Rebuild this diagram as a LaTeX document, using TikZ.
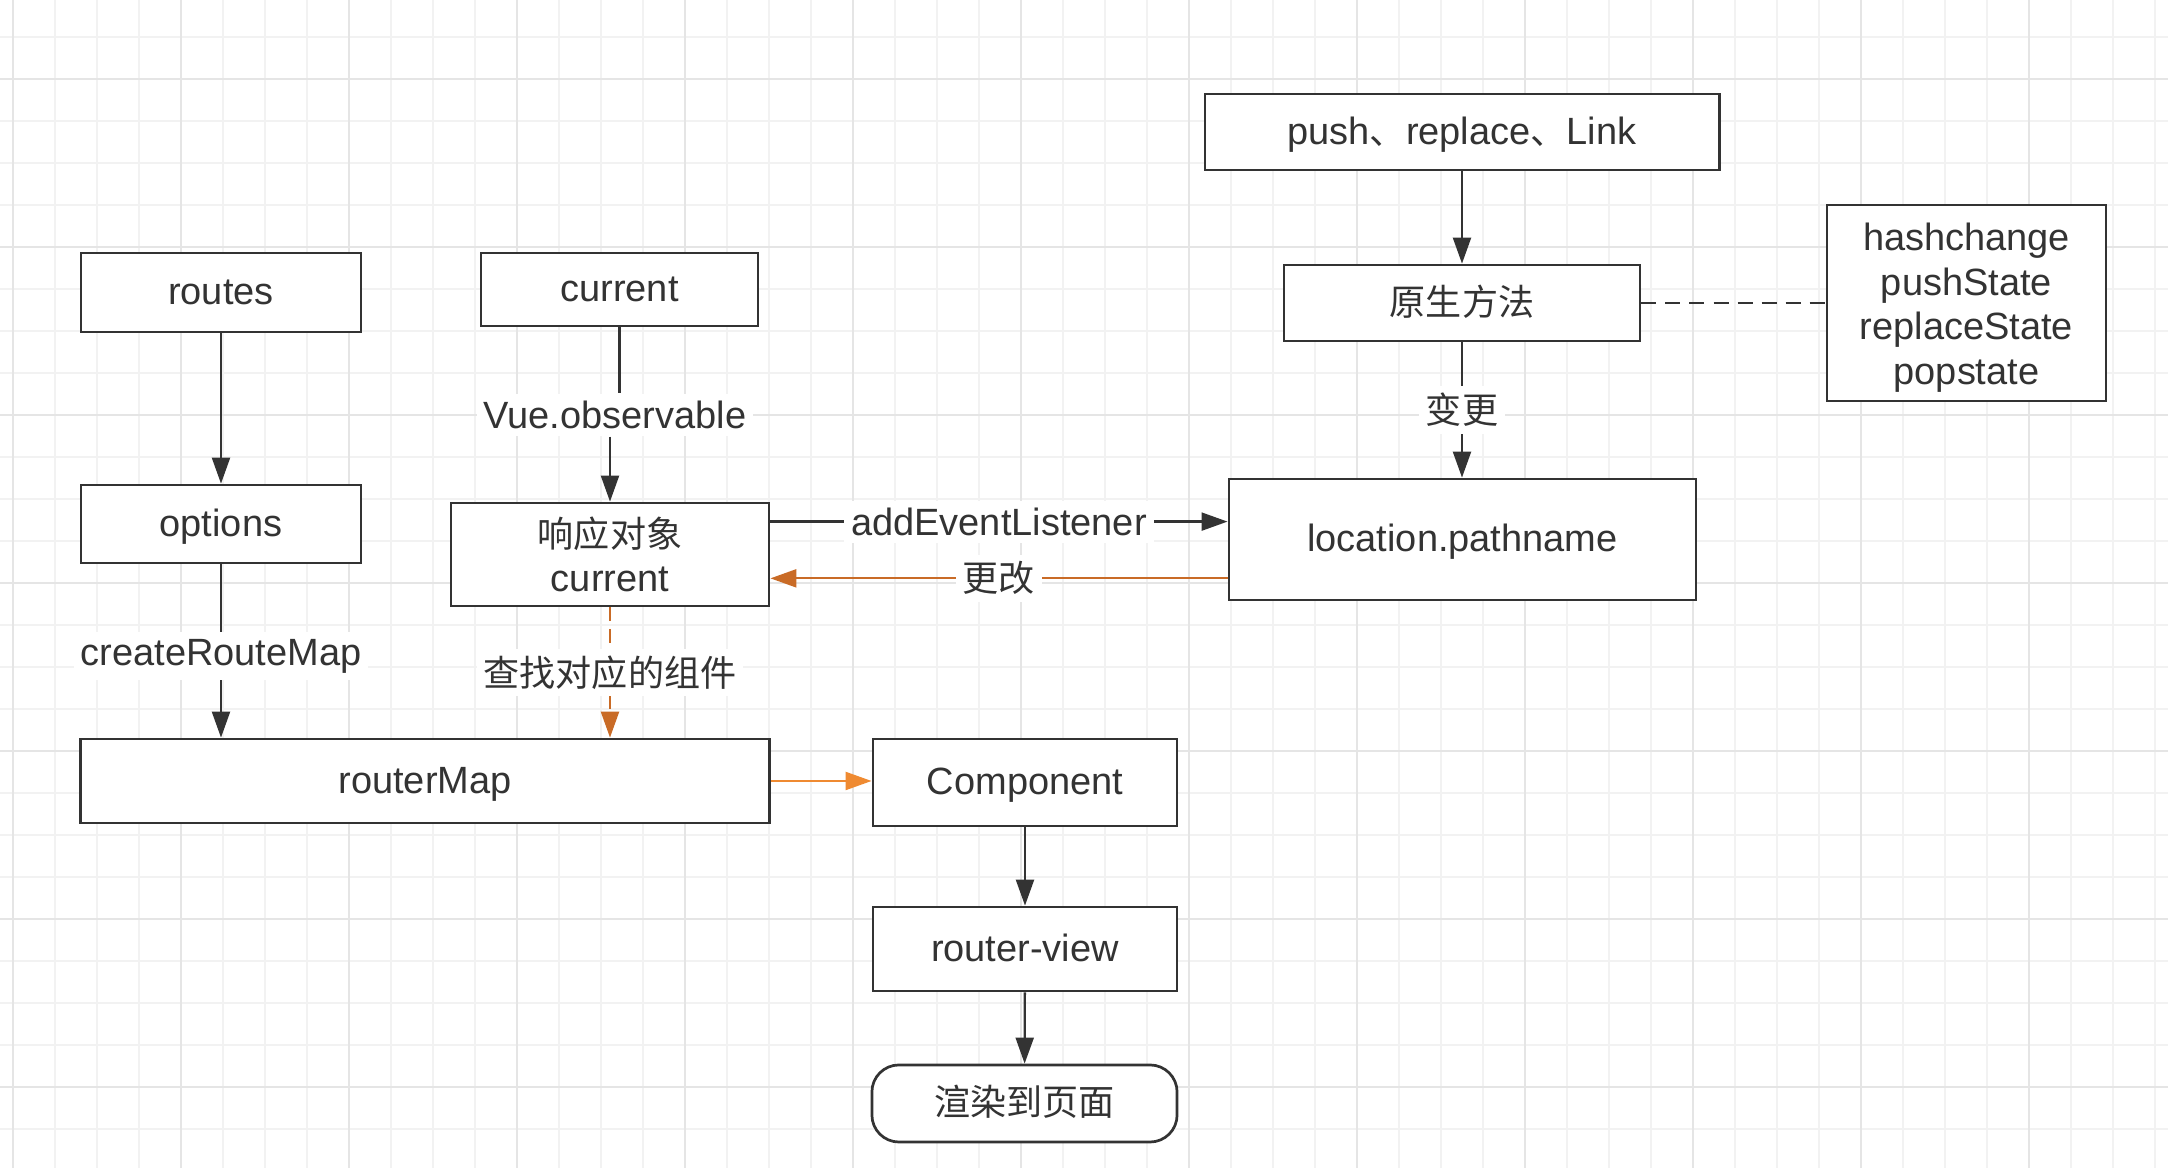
\documentclass[tikz,border=0pt]{standalone}
\usepackage{fontspec}
\setmainfont{Liberation Sans}
\newfontfamily\cjk{Noto Sans CJK SC}[Scale=0.95]
\usepackage{xcolor}
\usepackage{tikz}
\usetikzlibrary{arrows.meta, positioning, calc}

\definecolor{ink}{HTML}{333333}
\definecolor{chgorange}{HTML}{C96B26}
\definecolor{flworange}{HTML}{EF8A31}
\definecolor{gridminor}{HTML}{F2F2F2}
\definecolor{gridmajor}{HTML}{E5E5E5}

\begin{document}
\begin{tikzpicture}[
    x=0.01cm, y=-0.01cm,
    box/.style={draw=ink, fill=white, line width=0.77pt, align=center,
                text=ink, inner sep=0pt,
                font=\fontsize{10.8pt}{12.7pt}\selectfont},
    oneline/.style={box, text height=9.5pt, text depth=2.4pt},
    lbl/.style={fill=white, text=ink, inner sep=2pt, align=center,
                font=\fontsize{10.8pt}{12.7pt}\selectfont},
    conn/.style={draw=ink, line width=0.65pt},
    arr/.style={-{Triangle[length=0.26cm, width=0.18cm]}, draw=ink,
                line width=0.65pt},
    oarr/.style={-{Triangle[length=0.26cm, width=0.18cm]}, draw=chgorange,
                 line width=0.65pt},
    farr/.style={-{Triangle[length=0.26cm, width=0.18cm]}, draw=flworange,
                 line width=0.65pt},
  ]
  \useasboundingbox[fill=white] (0,0) rectangle (2168,1168);

  % background grid
  \foreach \gx in {0,...,51}
    \draw[gridminor, line width=0.37pt] ({13+42*\gx},0) -- ({13+42*\gx},1168);
  \foreach \gy in {0,...,26}
    \draw[gridminor, line width=0.37pt] (0,{37+42*\gy}) -- (2168,{37+42*\gy});
  \foreach \gx in {0,...,12}
    \draw[gridmajor, line width=0.4pt] ({13+168*\gx},0) -- ({13+168*\gx},1168);
  \foreach \gy in {0,...,6}
    \draw[gridmajor, line width=0.4pt] (0,{79+168*\gy}) -- (2168,{79+168*\gy});

  % routes --- left column
  \node[oneline, minimum width=2.8cm, minimum height=0.79cm] (routes) at (221,292.5) {routes};
  \node[oneline, minimum width=2.8cm, minimum height=0.78cm] (options) at (221,524) {options};
  \node[oneline, minimum width=6.88cm, minimum height=0.84cm] (routerMap) at (425,781) {routerMap};
  \draw[arr] (routes) -- (options);
  \draw[arr] (options) -- (options.south |- routerMap.north)
    node[lbl, pos=0.53] {createRouteMap};

  % current --- responsive object
  \node[oneline, minimum width=2.77cm, minimum height=0.73cm] (current) at (619.5,289.5) {current};
  \node[box, minimum width=3.18cm, minimum height=1.03cm] (resp) at (610,554.5)
    {{\cjk 响应对象}\\current};
  \node[lbl] (vobs) at (615,415) {Vue.observable};
  \draw[conn] (current) -- (current.south |- vobs.north);
  \draw[arr] (resp.north |- vobs.south) -- (resp);
  \draw[oarr, dash pattern=on 0.14cm off 0.08cm] (resp) -- (resp.south |- routerMap.north)
    node[lbl, midway] {\cjk 查找对应的组件};

  % history side
  \node[oneline, minimum width=5.14cm, minimum height=0.76cm] (push) at (1462,132)
    {push{\cjk 、}replace{\cjk 、}Link};
  \node[oneline, minimum width=3.56cm, minimum height=0.76cm] (native) at (1462,303) {\cjk 原生方法};
  \node[box, minimum width=2.79cm, minimum height=1.96cm] (events) at (1966.5,303)
    {\rule{0pt}{10.5pt}hashchange\\pushState\\replaceState\\popstate};
  \node[oneline, minimum width=4.67cm, minimum height=1.21cm] (location) at (1462.5,539.5)
    {location.pathname};
  \draw[arr] (push) -- (native);
  \draw[conn, dash pattern=on 0.15cm off 0.09cm] (native) -- (events);
  \draw[arr] (native) -- (native.south |- location.north)
    node[lbl, midway] {\cjk 变更};

  % listener and change between resp and location
  \coordinate (aelA) at ([yshift=-0.2cm]resp.north east);
  \coordinate (chgA) at ([yshift=0.29cm]resp.south east);
  \draw[arr] (aelA) -- (aelA -| location.west) node[lbl, midway] {addEventListener};
  \draw[oarr] (chgA -| location.west) -- (chgA) node[lbl, midway] {\cjk 更改};

  % render chain
  \node[oneline, minimum width=3.04cm, minimum height=0.87cm] (comp) at (1025,782.5) {Component};
  \node[oneline, minimum width=3.04cm, minimum height=0.84cm] (view) at (1025,949) {router-view};
  \node[oneline, rounded corners=0.27cm, minimum width=3.05cm, minimum height=0.77cm]
    (render) at (1024.5,1103.5) {\cjk 渲染到页面};
  \draw[farr] (routerMap.east) -- (routerMap.east -| comp.west);
  \draw[arr] (comp) -- (view);
  \draw[arr] (view) -- (render);
\end{tikzpicture}
\end{document}
